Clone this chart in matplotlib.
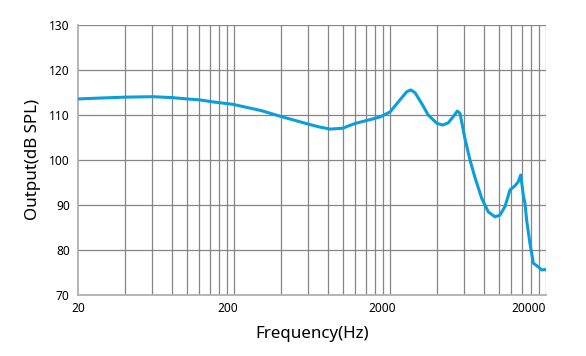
"""Curva de respuesta en frecuencia (Output dB SPL vs frecuencia)."""

import matplotlib
matplotlib.use("Agg")
import matplotlib.pyplot as plt
import matplotlib.transforms as mtransforms

# Datos
freq_hz = [20, 27.7, 40, 60, 80, 100, 120, 150, 197, 300, 400, 600, 700, 825,
           1000, 1100, 1210, 1488, 1726, 2000, 2318, 2560, 2716, 2892, 3192,
           3520, 3986, 4356, 4728, 5092, 5400, 5620, 6054, 6516, 7016, 7746,
           8532, 9420, 10140, 10920, 11760, 12650, 13280, 13770, 14320, 14660,
           15040, 15780, 16600, 17840, 18760, 19720, 20000]
output_db = [113.5, 113.7, 113.9, 114.0, 113.8, 113.5, 113.3, 112.8, 112.3,
             110.9, 109.6, 107.9, 107.3, 106.8, 107.0, 107.6, 108.1, 108.9,
             109.5, 110.6, 113.3, 115.1, 115.5, 114.9, 112.5, 109.9, 108.1,
             107.7, 108.2, 109.6, 110.8, 110.3, 104.6, 99.9, 96.0, 91.4, 88.4,
             87.3, 87.7, 89.6, 93.3, 94.2, 95.1, 96.6, 92.0, 90.3, 86.5, 81.4,
             77.0, 76.2, 75.5, 75.6, 75.5]

y_ticks = [70, 80, 90, 100, 110, 120, 130]
x_labels = ["20", "200", "2000", "20000"]
x_label_pos = [20, 200, 2000, 20000]
x_label_shift = [0, -6, -8, 0]   # px, las etiquetas del original no están centradas

plt.rcParams["font.family"] = ["Noto Sans", "DejaVu Sans"]

fig = plt.figure(figsize=(5.86, 3.56), dpi=100)
ax = fig.add_axes([78 / 586, 1 - 294.7 / 356, 468 / 586, 270 / 356])

# rejilla tipo papel logarítmico: 20, 40, ..., 200, 400, ...
grid_x = [k * d for d in (20, 200, 2000) for k in range(2, 11)]
for gx in grid_x:
    ax.axvline(gx, color="#858585", lw=0.9, zorder=1)
for gy in y_ticks[1:]:
    ax.axhline(gy, color="#858585", lw=0.9, zorder=1)

ax.plot(freq_hz, output_db, color="#0a9fdc", lw=2.2, zorder=3,
        solid_joinstyle="round", solid_capstyle="round")

ax.set_xscale("log")
ax.set_xlim(20, 20000)
ax.set_ylim(70, 130)
ax.set_yticks(y_ticks)
ax.set_yticklabels([str(v) for v in y_ticks], fontsize=8.6)
ax.set_xticks(x_label_pos)
ax.set_xticklabels(x_labels, fontsize=8.6)
ax.xaxis.set_minor_locator(plt.NullLocator())
ax.tick_params(length=0, pad=5)
ax.tick_params(axis="y", pad=6)

for lbl, dx in zip(ax.get_xticklabels(), x_label_shift):
    lbl.set_transform(lbl.get_transform() + mtransforms.ScaledTranslation(dx / 100, 0, fig.dpi_scale_trans))
ax.get_xticklabels()[-1].set_horizontalalignment("right")

for side in ("top", "right"):
    ax.spines[side].set_visible(False)
for side in ("left", "bottom"):
    ax.spines[side].set_color("#b0b0b0")
    ax.spines[side].set_linewidth(1.3)

ax.set_xlabel("Frequency(Hz)", fontsize=12.2, labelpad=8)
ax.set_ylabel("Output(dB SPL)", fontsize=12.2, labelpad=6)

fig.savefig("out.png", dpi=100, facecolor="white")
